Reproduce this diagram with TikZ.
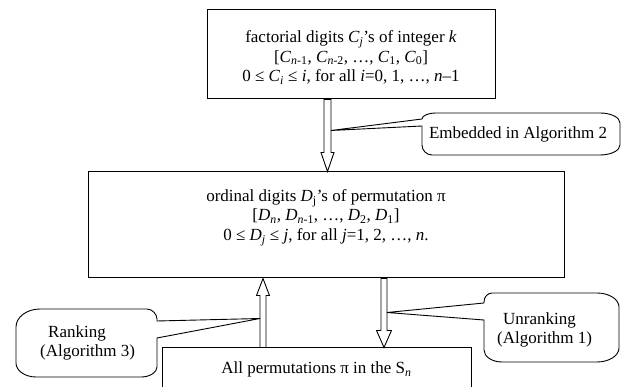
\documentclass[tikz,border=0pt]{standalone}
\usepackage{fontspec}
\setmainfont{Liberation Serif}
\usetikzlibrary{calc}
\newcommand\vv[2]{\textit{#1}\textsubscript{#2}}
% hollow block arrow from #1 to #2: stem half width #3, head half width #4, head length #5
\newcommand\vblock[5]{%
  \draw[blk] let \p1=(#1), \p2=(#2), \n1={sign(\y2-\y1)} in
    (\x1-#3,\y1) -- (\x1-#3,\y2-\n1*#5) -- (\x1-#4,\y2-\n1*#5) -- (\x2,\y2)
    -- (\x1+#4,\y2-\n1*#5) -- (\x1+#3,\y2-\n1*#5) -- (\x1+#3,\y1) -- cycle;}
\begin{document}
\begin{tikzpicture}[x=1pt,y=-1pt,
  box/.style={draw=black, line width=1pt, inner sep=0pt},
  txt/.style={inner sep=0pt, align=center, font=\fontsize{17}{19.5}\selectfont},
  blk/.style={draw=black, line width=0.9pt, fill=white, line join=miter},
  cl/.style={draw=black, line width=0.9pt, fill=white, line join=miter}]
\useasboundingbox (0,0) rectangle (622,387);
\clip (0,0) rectangle (622,387);

% boxes
\node[box, minimum width=288pt, minimum height=89pt] (fact) at (351,54.5) {};
\node[txt] (facttxt) at (351,57.5)
  {factorial digits \vv{C}{\textit{j}}’s of integer \textit{k}\\
   {[}\vv{C}{\textit{n}-1}, \vv{C}{\textit{n}-2}, …, \vv{C}{1}, \vv{C}{0}]\\
   0 ≤ \vv{C}{\textit{i}} ≤ \textit{i}, for all \textit{i}=0, 1, …, \textit{n}–1};

\node[box, minimum width=476pt, minimum height=106pt] (ord) at (326,225) {};
\node[txt] (ordtxt) at (326,217.5)
  {ordinal digits \vv{D}{j}’s of permutation π\\
   {[}\vv{D}{\textit{n}}, \vv{D}{\textit{n}-1}, …, \vv{D}{2}, \vv{D}{1}]\\
   0 ≤ \vv{D}{\textit{j}} ≤ \textit{j}, for all \textit{j}=1, 2, …, \textit{n}.};

\node[box, minimum width=309pt, minimum height=60pt] (perm) at (316.5,378) {};
\node[txt] (permtxt) at (316.5,369.5) {All permutations π in the S\textsubscript{\textit{n}}};

% block arrows
\coordinate (es) at ($(fact.south)+(-23.5,0)$);
\coordinate (ee) at (es |- ord.north);
\vblock{es}{ee}{3.5}{6.5}{19}

\coordinate (rs) at ($(perm.north)+(-53.5,0)$);
\coordinate (re) at (rs |- ord.south);
\vblock{rs}{re}{3}{6.5}{17}

\coordinate (us) at ($(ord.south)+(58,0)$);
\coordinate (ue) at (us |- perm.north);
\vblock{us}{ue}{3}{7.5}{17}

% callouts
\coordinate (etip) at ($(es)+(3.5,31)$);
\draw[cl] (422,119) .. controls (422,115.7) and (428.3,113) .. (436,113)
  -- (600,113) .. controls (611,113) and (620,117.5) .. (620,123)
  -- (620,145) .. controls (620,150.5) and (611,155) .. (600,155)
  -- (432,155) .. controls (426.5,155) and (422,150.5) .. (422,145)
  -- (422,126) -- (etip) -- cycle;
\node[txt] (etxt) at (518,134) {Embedded in Algorithm 2};

\coordinate (rtip) at ($(rs)+(-3,-29)$);
\draw[cl] (157,321) -- (157,319) .. controls (157,314.5) and (152.5,309) .. (147,309)
  -- (40,309) .. controls (26.8,309) and (16,317.1) .. (16,327)
  -- (16,363) .. controls (16,370.7) and (25,377) .. (36,377)
  -- (141,377) .. controls (149.8,377) and (157,372.5) .. (157,367)
  -- (157,338) -- (rtip) -- cycle;
\node[txt, align=left, anchor=west] (rtxt) at (40,343) {\hspace{8pt}Ranking\\(Algorithm 3)};

\coordinate (utip) at ($(us)+(3,34)$);
\draw[cl] (484,303) -- (484,302) .. controls (484,297) and (487.6,293) .. (492,293)
  -- (597,293) .. controls (609.1,293) and (619,299.3) .. (619,307)
  -- (619,348) .. controls (619,355.7) and (609.1,362) .. (597,362)
  -- (502,362) .. controls (492.1,362) and (484,356.6) .. (484,350)
  -- (484,320) -- (utip) -- cycle;
\node[txt, align=left, anchor=west] (utxt) at (497,330) {\hspace{6pt}Unranking\\(Algorithm 1)};
\end{tikzpicture}
\end{document}
